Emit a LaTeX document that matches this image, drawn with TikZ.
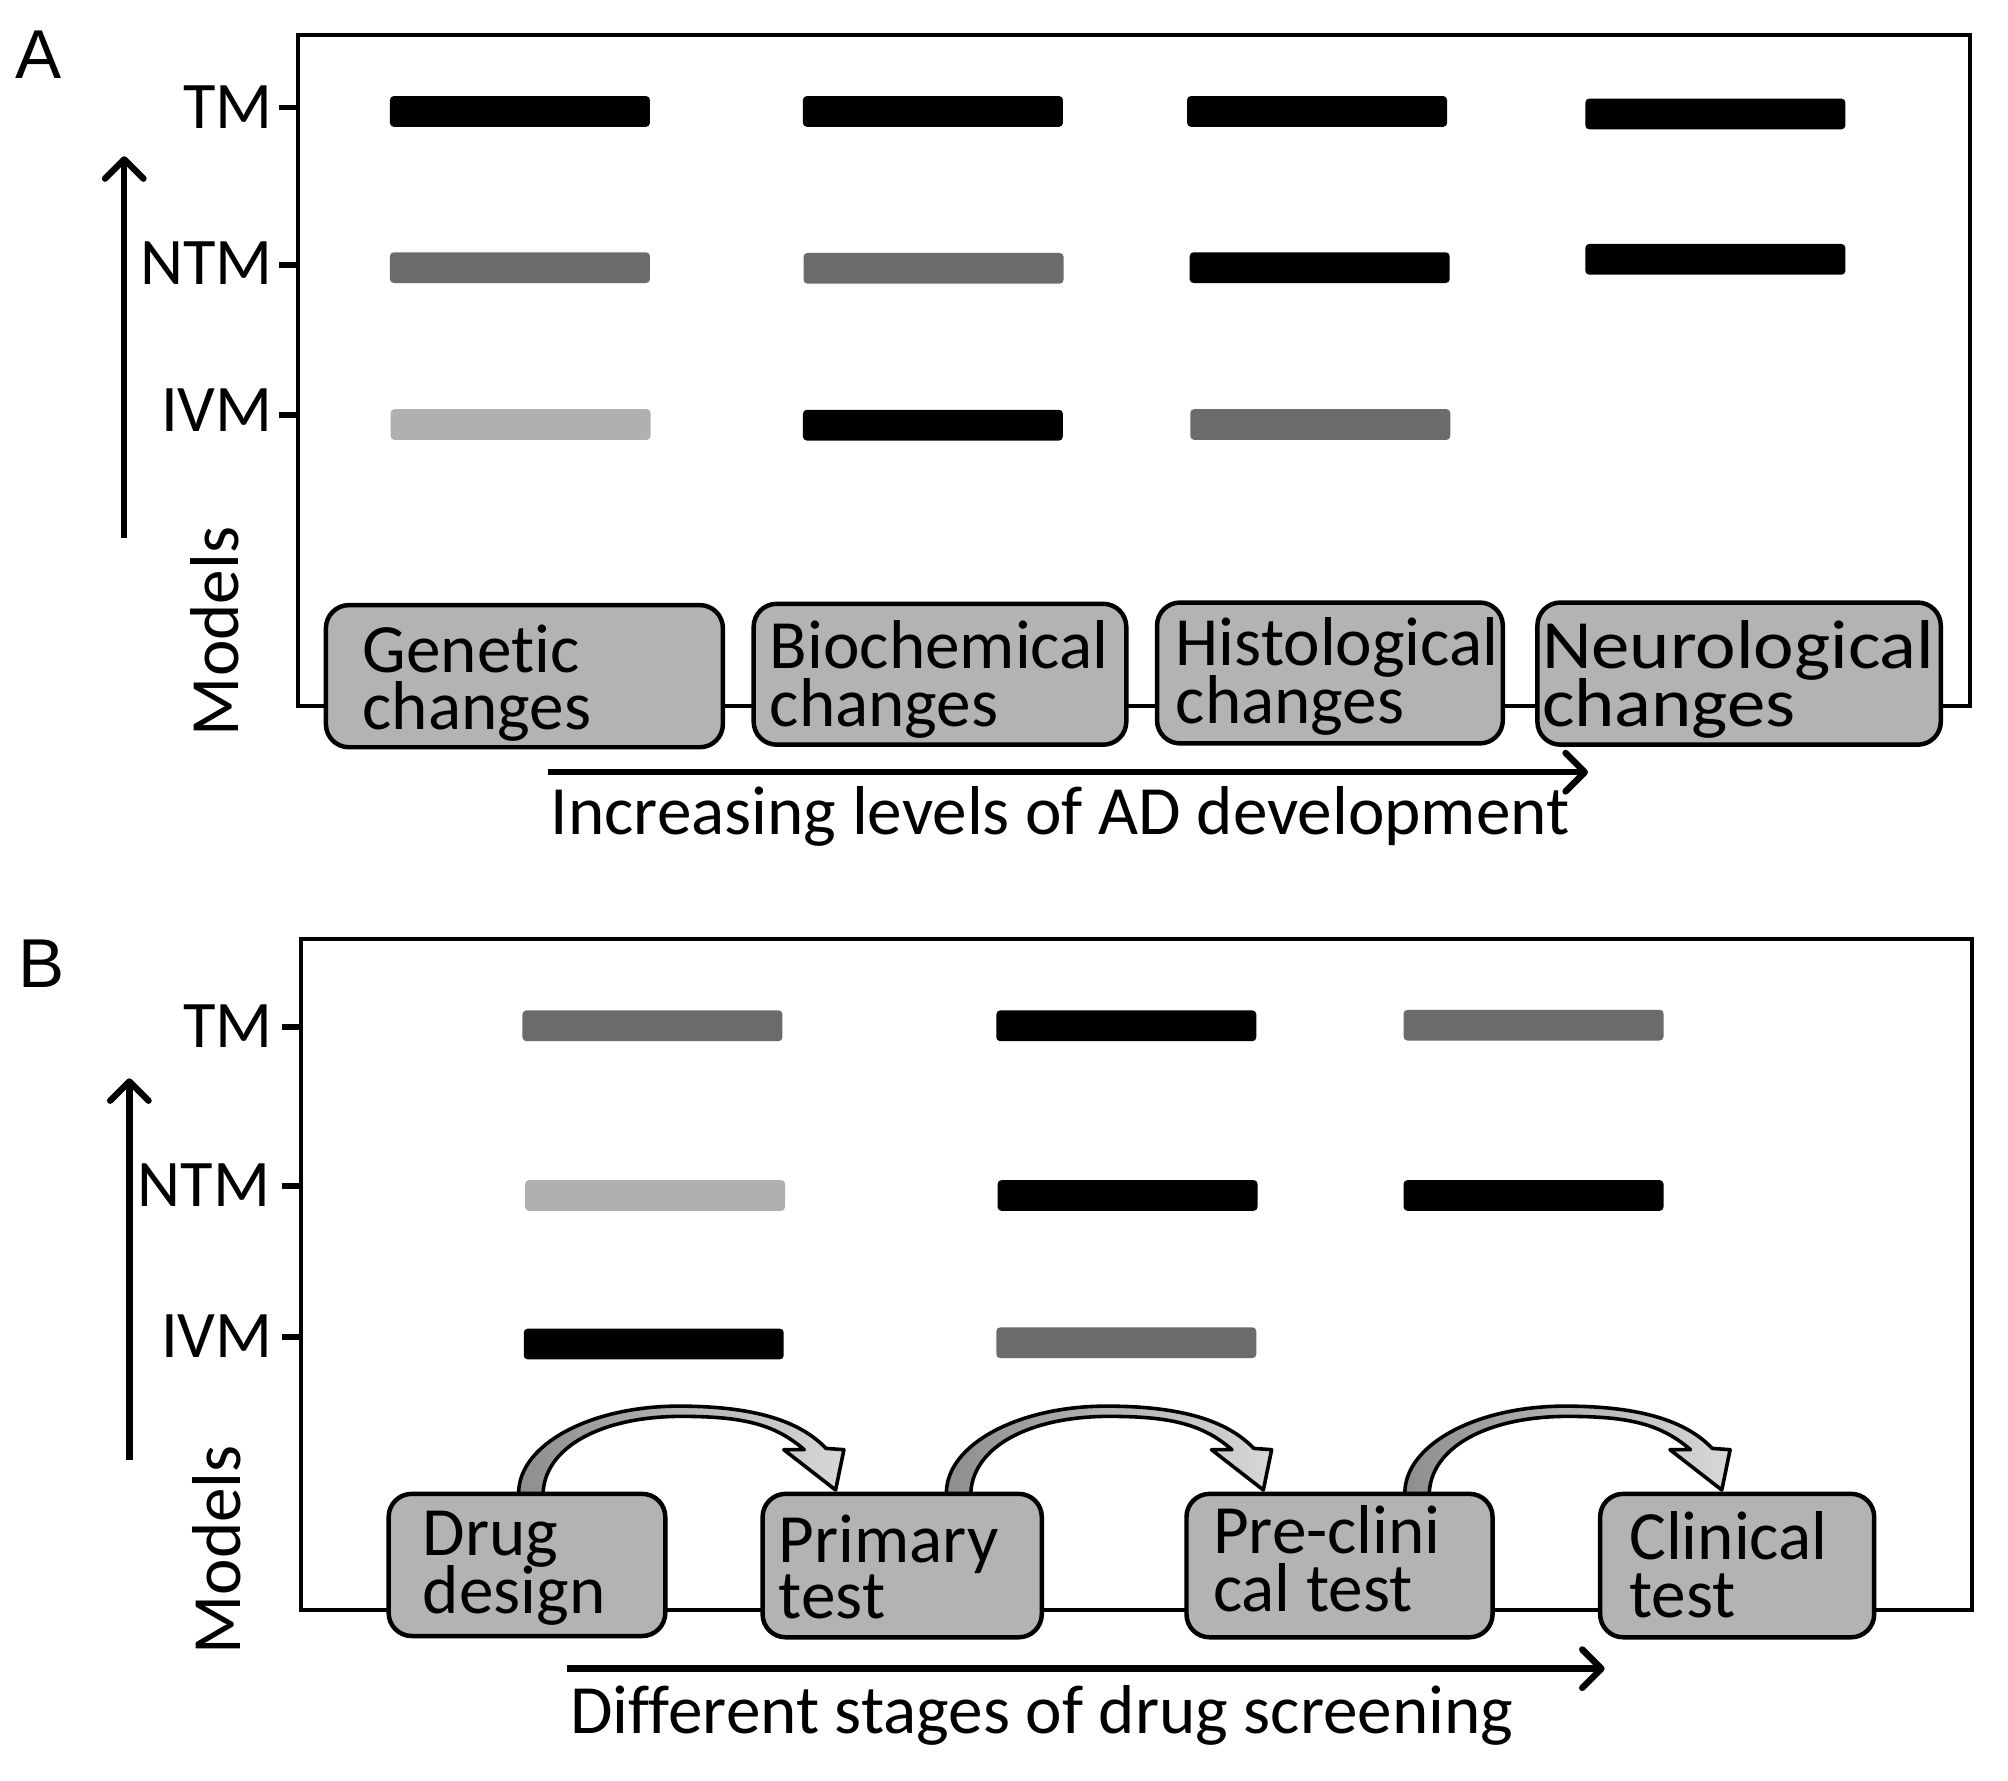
\documentclass[tikz,border=0pt]{standalone}
\usepackage{fontspec}
\setmainfont{Carlito}[Ligatures=NoCommon]
\newfontfamily\panelfont{Liberation Sans}
\usetikzlibrary{arrows.meta,calc}
\definecolor{bardark}{HTML}{6B6B6B}
\definecolor{barlight}{HTML}{B0B0B0}
\definecolor{boxfill}{HTML}{B3B3B3}
\definecolor{shaftdark}{HTML}{8E8E8E}
\definecolor{shaftlight}{HTML}{D8D8D8}
\tikzset{
  bar/.style={rounded corners=3pt, inner sep=0pt, minimum width=203pt, minimum height=24pt, draw=none},
  stagebox/.style={draw=black, line width=3.5pt, fill=boxfill, rounded corners=18pt, inner sep=0pt},
  lbl/.style={font=\fontsize{54}{54}\selectfont, inner sep=0pt, anchor=base west},
  axislbl/.style={font=\fontsize{52}{52}\selectfont, inner sep=0pt, anchor=base east},
  panellbl/.style={font=\panelfont\fontsize{54}{54}\selectfont, inner sep=0pt, anchor=base west},
  frameline/.style={line width=3pt},
  tickline/.style={line width=4.5pt},
  bigarrow/.style={line width=5pt, -{Straight Barb[round, length=15pt, width=30pt]}},
  curvedarrow/.style={draw=black, line width=2.8pt, line join=round, left color=shaftdark, right color=shaftlight},
}
\newcommand\stagearrow[2]{%
  \begin{scope}[xshift=#1pt]
    \coordinate (#2f) at (414,1168);
    \coordinate (#2t) at (652.5,1163.5);
    \draw[curvedarrow] (405,1168) -- (405,1166)
      .. controls (405,1128) and (461,1098) .. (530,1098)
      .. controls (590,1098) and (625,1110) .. (645,1131)
      -- (659,1132) -- (#2t) -- (612,1132) -- (628,1132)
      .. controls (605,1112) and (580,1106) .. (532,1106)
      .. controls (470,1106) and (424,1130) .. (424,1168) -- cycle;
  \end{scope}}
\begin{document}
\begin{tikzpicture}[x=1pt,y=-1pt]
\useasboundingbox (0,0) rectangle (1568,1390);

% ---------------- Panel A ----------------
\node[panellbl] (pA) at (12,61) {A};
\draw[frameline] (233,27) rectangle (1538,551);
\coordinate (aTM) at (233,84);
\coordinate (aNTM) at (233,207);
\coordinate (aIVM) at (233,324);
\draw[tickline] (aTM) -- ++(-15,0);
\draw[tickline] (aNTM) -- ++(-15,0);
\draw[tickline] (aIVM) -- ++(-15,0);
\node[axislbl] (aTMl) at (213,100) {TM};
\node[axislbl] (aNTMl) at (213,222) {NTM};
\node[axislbl] (aIVMl) at (213,337) {IVM};
\coordinate (aup0) at (97,420);
\coordinate (aup1) at (97,122);
\draw[bigarrow] (aup0) -- (aup1);
\node[lbl, rotate=90] (aMod) at (186,575) {Models};

\node[bar, fill=black]   (a11) at (406,87) {};
\node[bar, fill=black]   (a12) at (728.5,87) {};
\node[bar, fill=black]   (a13) at (1028.5,87) {};
\node[bar, fill=black]   (a14) at (1339.5,89) {};
\node[bar, fill=bardark] (a21) at (406,209) {};
\node[bar, fill=bardark] (a22) at (729,209.5) {};
\node[bar, fill=black]   (a23) at (1030.5,209) {};
\node[bar, fill=black]   (a24) at (1339.5,202.5) {};
\node[bar, fill=barlight] (a31) at (406.5,331.5) {};
\node[bar, fill=black]   (a32) at (728.5,332) {};
\node[bar, fill=bardark] (a33) at (1031,331.5) {};

\node[stagebox, minimum width=310pt, minimum height=111pt] (gen) at (409.5,528) {};
\node[stagebox, minimum width=291pt, minimum height=110pt] (bio) at (734,526.5) {};
\node[stagebox, minimum width=270pt, minimum height=110pt] (his) at (1038.5,525.5) {};
\node[stagebox, minimum width=315pt, minimum height=111pt] (neu) at (1358,526) {};
\node[lbl] (gen1) at (283,525) {Genetic};
\node[lbl] (gen2) at (283,570) {changes};
\node[lbl] (bio1) at (601,522) {Biochemical};
\node[lbl] (bio2) at (601,567) {changes};
\node[lbl] (his1) at (918,520) {Histological};
\node[lbl] (his2) at (918,565) {changes};
\node[lbl, xscale=1.11] (neu1) at (1204,522) {Neurological};
\node[lbl, xscale=1.11] (neu2) at (1204,567) {changes};

\coordinate (ah0) at (428,603);
\coordinate (ah1) at (1240,603);
\draw[bigarrow] (ah0) -- (ah1);
\node[lbl] (aAxis) at (430,652) {Increasing levels of AD development};

% ---------------- Panel B ----------------
\node[panellbl] (pB) at (14,771) {B};
\draw[frameline] (235,733) rectangle (1540,1257);
\coordinate (bTM) at (235,802);
\coordinate (bNTM) at (235,926);
\coordinate (bIVM) at (235,1044);
\draw[tickline] (bTM) -- ++(-15,0);
\draw[tickline] (bNTM) -- ++(-15,0);
\draw[tickline] (bIVM) -- ++(-15,0);
\node[axislbl] (bTMl) at (213,818) {TM};
\node[axislbl] (bNTMl) at (211,942) {NTM};
\node[axislbl] (bIVMl) at (213,1060) {IVM};
\coordinate (bup0) at (101,1140);
\coordinate (bup1) at (101,842);
\draw[bigarrow] (bup0) -- (bup1);
\node[lbl, rotate=90] (bMod) at (188,1292) {Models};

\node[bar, fill=bardark]  (b11) at (509.5,801) {};
\node[bar, fill=black]    (b12) at (879.5,801) {};
\node[bar, fill=bardark]  (b13) at (1197.5,800.5) {};
\node[bar, fill=barlight] (b21) at (511.5,933.5) {};
\node[bar, fill=black]    (b22) at (880.5,933.5) {};
\node[bar, fill=black]    (b23) at (1197.5,933.5) {};
\node[bar, fill=black]    (b31) at (510.5,1049.5) {};
\node[bar, fill=bardark]  (b32) at (879.5,1048.5) {};

\stagearrow{0}{ca}
\stagearrow{334}{cb}
\stagearrow{692}{cc}

\node[stagebox, minimum width=216pt, minimum height=111pt] (drug) at (411.5,1222) {};
\node[stagebox, minimum width=218pt, minimum height=112pt] (prim) at (704.5,1222.5) {};
\node[stagebox, minimum width=239pt, minimum height=112pt] (prec) at (1046,1222.5) {};
\node[stagebox, minimum width=214pt, minimum height=112pt] (clin) at (1356.5,1222.5) {};
\node[lbl] (drug1) at (330,1215) {Drug};
\node[lbl] (drug2) at (330,1260) {design};
\node[lbl] (prim1) at (608,1220) {Primary};
\node[lbl] (prim2) at (608,1264) {test};
\node[lbl] (prec1) at (947,1213) {Pre-clini};
\node[lbl] (prec2) at (947,1258) {cal test};
\node[lbl] (clin1) at (1272,1218) {Clinical};
\node[lbl] (clin2) at (1272,1263) {test};

\coordinate (bh0) at (443,1303);
\coordinate (bh1) at (1253,1303);
\draw[bigarrow] (bh0) -- (bh1);
\node[lbl] (bAxis) at (445,1354) {Different stages of drug screening};
\end{tikzpicture}
\end{document}
